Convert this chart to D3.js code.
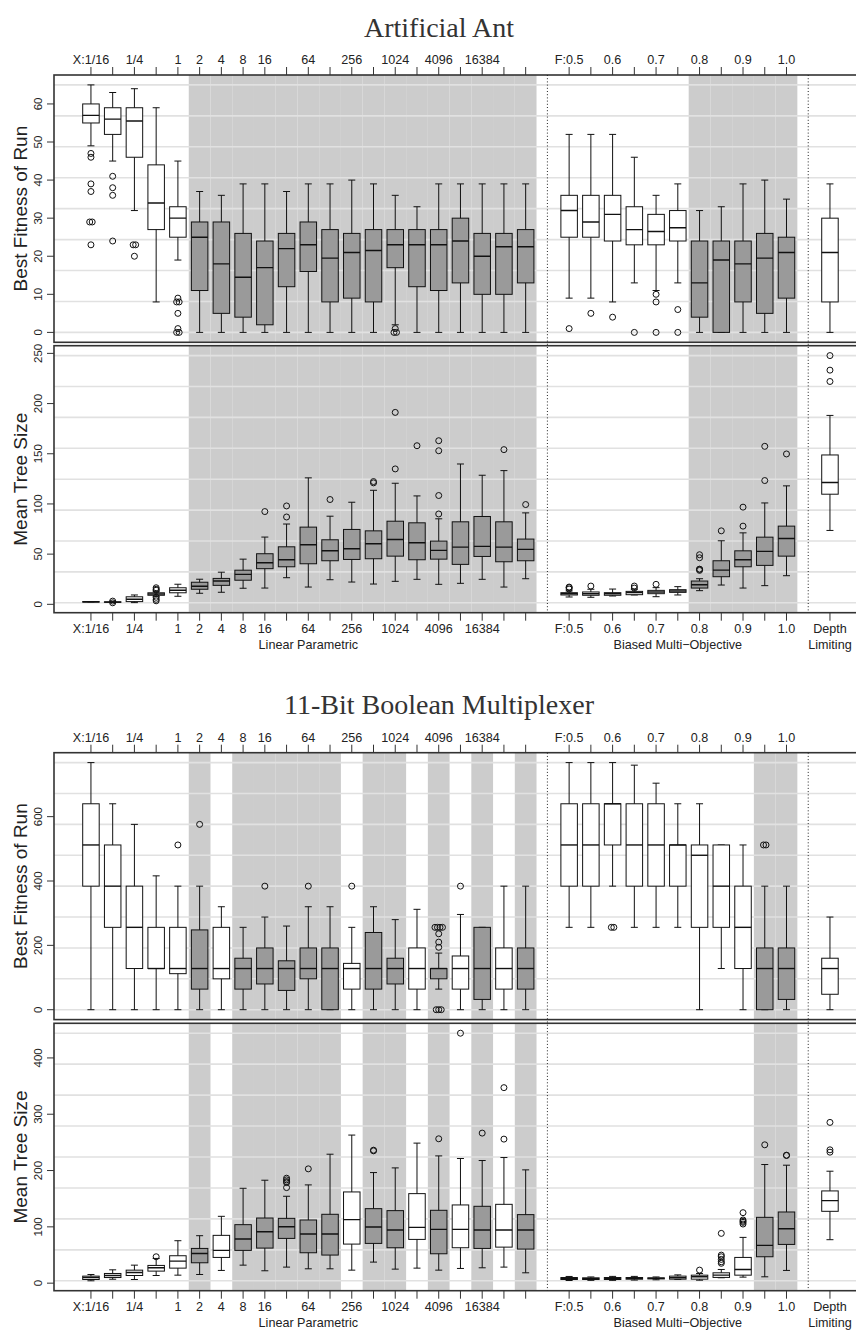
<!DOCTYPE html>
<html>
<head>
<meta charset="utf-8">
<script src="https://cdn.jsdelivr.net/npm/d3@7"></script>
<style>
  html, body { margin: 0; padding: 0; background: #fff; }
  svg { display: block; }
  text { font-family: "Liberation Sans", Arial, Helvetica, sans-serif; fill: #222; }
  .title { font-family: "Liberation Serif", "Times New Roman", serif; fill: #333; }
</style>
</head>
<body>
<svg id="chart" width="856" height="1330"></svg>
<script>
// ---- categories and tick labels ----
const linearLabels = ["X:1/16", "", "1/4", "", "1", "2", "4", "8", "16", "", "64", "", "256", "", "1024", "", "4096", "", "16384", "", ""];
const biasedLabels = ["F:0.5", "", "0.6", "", "0.7", "", "0.8", "", "0.9", "", "1.0"];
const depthLabel = ["Depth", "Limiting"];
const groupNames = ["Linear Parametric", "Biased Multi\u2212Objective"];

// ---- Artificial Ant: box summaries [lower whisker, Q1, median, Q3, upper whisker] ----
// order: 21 linear parametric, 11 biased multi-objective, 1 depth limiting
const antFitness = [
  [49, 55, 57, 60, 65], [45, 52, 56, 59, 63], [32, 46, 55.5, 59, 64], [8, 27, 34, 44, 59],
  [19, 25, 30, 33, 45], [0, 11, 25, 29, 37], [0, 5, 18, 29, 36], [0, 4, 14.5, 26, 39],
  [0, 2, 17, 24, 39], [0, 12, 22, 26, 37], [0, 16, 23, 29, 39], [0, 8, 19.5, 27, 39],
  [0, 9, 21, 26, 40], [0, 8, 21.5, 27, 39], [2, 17, 23, 27, 36], [0, 12, 23, 27, 33],
  [0, 11, 23, 27, 39], [0, 13, 24, 30, 39], [0, 10, 20, 26, 39], [0, 10, 22.5, 26, 39],
  [0, 13, 22.5, 27, 39],
  [9, 25, 32, 36, 52], [9, 25, 29, 36, 52], [8, 24, 31, 36, 52], [13, 23, 27, 33, 46],
  [11, 23, 26.5, 31, 36], [13, 24, 27.5, 32, 39], [0, 4, 13, 24, 32], [0, 0, 19, 24, 33],
  [0, 8, 18, 24, 39], [0, 5, 19.5, 26, 40], [0, 9, 21, 25, 35],
  [0, 8, 21, 30, 39]
];
const antFitnessOut = [
  [47, 46, 39, 37, 29, 29, 23], [41, 38, 36, 24], [23, 23, 20], [], [9, 8, 8, 5, 1, 0, 0],
  [], [], [], [], [], [], [], [], [], [1, 0, 0], [], [], [], [], [], [],
  [1], [5], [4], [0], [10, 8, 0], [6, 0], [], [], [], [], [],
  []
];
const antSize = [
  [2.4, 2.5, 2.6, 2.7, 2.8], [1.8, 2.0, 2.2, 2.5, 3.0], [1.7, 2.7, 5, 7.5, 9.3], [8, 9, 10.3, 11.5, 13],
  [8, 11.5, 14, 16.5, 20], [11, 15, 18, 22, 25], [12, 18.9, 23.2, 25.8, 32], [16, 24, 29.8, 34, 45],
  [16.2, 35.5, 41.4, 50.4, 67], [26.5, 37.4, 44.4, 57.3, 80], [17.2, 40.4, 59.3, 76.9, 126], [24.5, 43.4, 53.3, 64.3, 87.8],
  [22.2, 44.7, 55.3, 74.6, 101.7], [20.2, 45.4, 60.3, 73.2, 113.6], [22.9, 48, 64.6, 82.8, 120.6], [24.9, 44.4, 61.3, 81.2, 108],
  [19.9, 45, 53.7, 63, 85.2], [20.9, 39.8, 57, 82.2, 139.8], [24.9, 47.7, 57.7, 87.5, 128.6], [17.2, 42.4, 57, 82.2, 133.2],
  [25.5, 43.4, 54.7, 65, 91.1],
  [7.3, 9.3, 10.6, 11.6, 13.3], [7, 9, 10.6, 12.3, 15], [8.3, 9, 10.6, 11.6, 15.2], [9.3, 9.6, 11.6, 12.9, 15],
  [7.6, 10.6, 12.3, 13.9, 16.6], [9.3, 11.9, 13.3, 14.6, 17.6], [13.6, 16.2, 19.5, 23.2, 25.5], [19.2, 27.5, 34.1, 43.4, 63.3],
  [16.2, 37.4, 44.4, 53.3, 71.2], [18.6, 38.8, 52.7, 66.9, 101], [28.5, 48, 65.6, 77.9, 118],
  [73.6, 109.7, 121.3, 148.8, 188.2]
];
const antSizeOut = [
  [], [1.5, 3.2], [], [16.5, 15, 14, 7, 5, 3.5], [], [], [], [],
  [92.4], [98, 87], [], [104.4], [], [121, 122.3], [191.2, 134.9], [158],
  [163, 153, 108.4, 90], [], [], [154.1], [99.4],
  [17.2, 16.6, 15.2], [18.2], [], [18.2, 16.2], [19.9], [], [49.4, 46.4, 35, 34.8, 33.8], [73.2],
  [96.8, 77.9], [157.4, 123.3], [149.8],
  [247.8, 233.3, 222]
];
// shaded (grey) columns, 1-based slot numbers
const antShaded = [6, 7, 8, 9, 10, 11, 12, 13, 14, 15, 16, 17, 18, 19, 20, 21, 29, 30, 31, 32, 33];

// ---- 11-Bit Boolean Multiplexer ----
const muxFitness = [
  [0, 384, 512, 640, 768], [0, 256, 384, 512, 640], [0, 128, 256, 384, 576], [0, 128, 128, 256, 416],
  [0, 112, 128, 256, 384], [0, 64, 128, 248, 384], [0, 96, 128, 256, 320], [0, 64, 128, 160, 256],
  [0, 80, 128, 192, 288], [0, 60, 128, 152, 260], [0, 96, 128, 192, 320], [0, 0, 128, 192, 320],
  [0, 64, 128, 144, 256], [0, 64, 128, 240, 320], [0, 80, 128, 160, 280], [0, 64, 128, 192, 312],
  [64, 96, 128, 128, 176], [0, 64, 128, 167, 296], [0, 32, 128, 256, 256], [0, 64, 128, 192, 384],
  [0, 64, 128, 192, 384],
  [256, 384, 512, 640, 768], [256, 384, 512, 640, 768], [384, 512, 640, 640, 768], [256, 384, 512, 640, 760],
  [256, 384, 512, 640, 704], [256, 384, 512, 512, 640], [0, 256, 480, 512, 640], [128, 256, 384, 512, 512],
  [0, 128, 256, 384, 512], [0, 0, 128, 192, 384], [0, 32, 128, 192, 384],
  [0, 48, 128, 160, 288]
];
const muxFitnessOut = [
  [], [], [], [], [512], [576], [], [], [384], [], [384], [], [384], [], [], [],
  [256, 256, 256, 256, 236, 210, 194, 0, 0, 0], [384], [], [], [],
  [], [], [256, 256], [], [], [], [], [], [], [512, 512], [],
  []
];
const muxSize = [
  [4.2, 6.5, 10, 12.5, 15.4], [7, 10, 13.6, 17.2, 23.7], [6.5, 13.6, 19, 23.1, 32], [13.6, 21.4, 27.3, 31.5, 43.9],
  [14.2, 26.7, 39.2, 48.7, 75.4], [15.4, 36.2, 52.8, 61.7, 84.3], [22.6, 45.7, 58.2, 84.9, 118.7], [32, 58.2, 78.3, 103.9, 168.5],
  [22, 62.3, 91.4, 115.7, 182.8], [28.5, 79.5, 100.3, 115.1, 154.3], [25.5, 54, 87.2, 112.2, 174.5], [25.5, 49.9, 87.2, 122.3, 229],
  [23.1, 69.4, 112.8, 162, 263], [37.4, 70.6, 99.7, 132.3, 196.4], [24.9, 62.9, 94.4, 128.8, 204.7], [26.7, 77.7, 99.1, 159, 248.7],
  [23.1, 52.2, 95.5, 129.4, 226], [26.1, 62.9, 95.5, 138.9, 221.4], [27.3, 61.7, 94.4, 136.5, 217.8], [28.5, 64, 94.4, 140, 223.1],
  [18.4, 60.5, 94.4, 121.7, 201.2],
  [4.7, 6.5, 8.3, 10, 11.9], [5, 6.5, 8, 9.5, 11], [5, 6.5, 8.3, 10, 12], [5.5, 7, 8.5, 10, 12],
  [6, 7.5, 8.5, 9.5, 11], [6.5, 7.1, 9.6, 12.5, 14.7], [5.3, 7.1, 11.3, 14.2, 17.2], [9.6, 10.2, 14.2, 18.4, 24.3],
  [10.7, 14.2, 24.3, 45.7, 81.3], [11.3, 46.9, 67.1, 116.9, 210.7], [22.6, 68.8, 96.7, 126.4, 209.5],
  [77.2, 127.6, 146.6, 163.8, 198.8]
];
const muxSizeOut = [
  [], [], [], [46.9], [], [], [], [], [], [186.4, 183.4, 180.4, 178.6, 169.7], [203], [],
  [], [235, 236.2], [], [], [256.4], [443.9], [266.5], [347.2, 255.8], [],
  [], [], [], [], [], [], [23.2], [88.4, 49.8, 46.9, 42.2, 38, 35.3],
  [125.2, 112.2, 110, 108, 105], [245.7], [227.3, 226.7],
  [285.5, 236.8, 232.6]
];
const muxShaded = [6, 8, 9, 10, 11, 12, 14, 15, 17, 19, 21, 32, 33];

// ---- layout ----
const svg = d3.select("#chart");
const plotLeft = 54, plotRight = 858;
// slot numbers: 1..21 linear, 22 separator, 23..33 biased, 34 separator, 35 depth
const slots = d3.range(1, 22).concat(d3.range(23, 34)).concat([35]);
const x = d3.scaleLinear().domain([-0.7, 36.29]).range([plotLeft, plotRight]);
const step = x(2) - x(1);
const boxW = 16.5, capW = 7;
const FRAME = "#333";

function yScaleFor(data, outs, y0, y1) {
  const vals = data.flat().concat(outs.flat());
  const lo = d3.min(vals), hi = d3.max(vals);
  const pad = (hi - lo) * 0.04;
  return { scale: d3.scaleLinear().domain([lo - pad, hi + pad]).range([y1, y0]), lo, hi };
}

function drawPanel(g, p, shaded) {
  const { scale: y, lo, hi } = yScaleFor(p.data, p.outs, p.y0, p.y1);
  const clipId = "clip" + Math.round(p.y0);
  g.append("clipPath").attr("id", clipId).append("rect")
    .attr("x", plotLeft).attr("y", p.y0).attr("width", plotRight - plotLeft).attr("height", p.y1 - p.y0);
  const inner = g.append("g").attr("clip-path", `url(#${clipId})`);

  // shaded columns
  inner.selectAll("rect.shade").data(shaded).join("rect").attr("class", "shade")
    .attr("x", d => x(d) - step / 2).attr("width", step)
    .attr("y", p.y0).attr("height", p.y1 - p.y0).attr("fill", "#cccccc");

  // reference grid: 8 equal intervals across the data range
  const grid = d3.range(9).map(k => lo + (hi - lo) * k / 8);
  inner.selectAll("line.grid").data(grid).join("line").attr("class", "grid")
    .attr("x1", plotLeft).attr("x2", plotRight)
    .attr("y1", d => y(d)).attr("y2", d => y(d))
    .attr("stroke", "#e1e1e1").attr("stroke-width", 1.6);

  // boxes
  const boxes = p.data.map((d, i) => ({ d, slot: slots[i], outs: p.outs[i], grey: shaded.includes(slots[i]) }));
  const bg = inner.selectAll("g.box").data(boxes).join("g").attr("class", "box");
  bg.append("line").attr("x1", b => x(b.slot)).attr("x2", b => x(b.slot))
    .attr("y1", b => y(b.d[0])).attr("y2", b => y(b.d[4]))
    .attr("stroke", "#111").attr("stroke-width", 1);
  bg.append("line").attr("x1", b => x(b.slot) - capW / 2).attr("x2", b => x(b.slot) + capW / 2)
    .attr("y1", b => y(b.d[0])).attr("y2", b => y(b.d[0])).attr("stroke", "#111").attr("stroke-width", 1);
  bg.append("line").attr("x1", b => x(b.slot) - capW / 2).attr("x2", b => x(b.slot) + capW / 2)
    .attr("y1", b => y(b.d[4])).attr("y2", b => y(b.d[4])).attr("stroke", "#111").attr("stroke-width", 1);
  bg.append("rect").attr("x", b => x(b.slot) - boxW / 2).attr("width", boxW)
    .attr("y", b => y(b.d[3])).attr("height", b => Math.max(0.5, y(b.d[1]) - y(b.d[3])))
    .attr("fill", b => b.grey ? "#9a9a9a" : "#ffffff").attr("stroke", "#111").attr("stroke-width", 1);
  bg.append("line").attr("x1", b => x(b.slot) - boxW / 2).attr("x2", b => x(b.slot) + boxW / 2)
    .attr("y1", b => y(b.d[2])).attr("y2", b => y(b.d[2])).attr("stroke", "#111").attr("stroke-width", 1.4);
  // outliers: repeated values are spread a little sideways
  bg.each(function (b) {
    const seen = {};
    const counts = d3.rollup(b.outs, v => v.length, v => v);
    const pts = b.outs.map(v => {
      seen[v] = (seen[v] || 0) + 1;
      const n = counts.get(v);
      return { v, dx: (seen[v] - 1 - (n - 1) / 2) * 2.5 };
    });
    d3.select(this).selectAll("circle").data(pts).join("circle")
      .attr("cx", o => x(b.slot) + o.dx).attr("cy", o => y(o.v)).attr("r", 3)
      .attr("fill", "none").attr("stroke", "#111").attr("stroke-width", 1);
  });

  // frame
  g.append("rect").attr("x", plotLeft).attr("y", p.y0).attr("width", plotRight - plotLeft).attr("height", p.y1 - p.y0)
    .attr("fill", "none").attr("stroke", FRAME).attr("stroke-width", 1.6);

  // y axis ticks and labels
  const ya = g.append("g");
  ya.selectAll("line").data(p.ticks).join("line")
    .attr("x1", plotLeft - 7).attr("x2", plotLeft).attr("y1", d => y(d)).attr("y2", d => y(d))
    .attr("stroke", FRAME).attr("stroke-width", 1);
  ya.selectAll("text").data(p.ticks).join("text")
    .attr("transform", d => `translate(${plotLeft - 12},${y(d)}) rotate(-90)`)
    .attr("text-anchor", "middle").attr("font-size", 11.5).text(d => d);
  g.append("text")
    .attr("transform", `translate(27,${(p.y0 + p.y1) / 2}) rotate(-90)`)
    .attr("text-anchor", "middle").attr("font-size", 19).text(p.label);
}

function drawChart(cfg) {
  const g = svg.append("g");
  g.append("text").attr("class", "title").attr("x", 439).attr("y", cfg.titleY)
    .attr("text-anchor", "middle").attr("font-size", 28).text(cfg.title);

  drawPanel(g, cfg.top, cfg.shaded);
  drawPanel(g, cfg.bottom, cfg.shaded);

  // separators between the parameter families
  [22, 34].forEach(s => {
    g.append("line").attr("x1", x(s)).attr("x2", x(s))
      .attr("y1", cfg.top.y0).attr("y2", cfg.bottom.y1)
      .attr("stroke", "#222").attr("stroke-width", 1).attr("stroke-dasharray", "1,2.2");
  });

  const tickSlots = d3.range(1, 22).concat(d3.range(23, 34));
  const tickText = linearLabels.concat(biasedLabels);

  // top axis
  const topY = cfg.top.y0;
  g.append("g").selectAll("line").data(tickSlots).join("line")
    .attr("x1", d => x(d)).attr("x2", d => x(d)).attr("y1", topY - 8).attr("y2", topY)
    .attr("stroke", FRAME).attr("stroke-width", 1);
  g.append("g").selectAll("text").data(tickSlots).join("text")
    .attr("x", d => x(d)).attr("y", topY - 11).attr("text-anchor", "middle").attr("font-size", 12.6)
    .text((d, i) => tickText[i]);

  // bottom axis
  const botY = cfg.bottom.y1;
  const botSlots = tickSlots.concat([35]);
  g.append("g").selectAll("line").data(botSlots).join("line")
    .attr("x1", d => x(d)).attr("x2", d => x(d)).attr("y1", botY).attr("y2", botY + 8)
    .attr("stroke", FRAME).attr("stroke-width", 1);
  g.append("g").selectAll("text").data(tickSlots).join("text")
    .attr("x", d => x(d)).attr("y", botY + 20.5).attr("text-anchor", "middle").attr("font-size", 12.6)
    .text((d, i) => tickText[i]);
  g.append("text").attr("x", x(35)).attr("y", botY + 20.5).attr("text-anchor", "middle").attr("font-size", 12.6).text(depthLabel[0]);
  g.append("text").attr("x", x(35)).attr("y", botY + 36.5).attr("text-anchor", "middle").attr("font-size", 12.6).text(depthLabel[1]);
  g.append("text").attr("x", x(11)).attr("y", botY + 36.5).attr("text-anchor", "middle").attr("font-size", 12.6).text(groupNames[0]);
  g.append("text").attr("x", x(28)).attr("y", botY + 36.5).attr("text-anchor", "middle").attr("font-size", 12.6).text(groupNames[1]);
}

drawChart({
  title: "Artificial Ant", titleY: 37, shaded: antShaded,
  top: { y0: 75, y1: 342.3, data: antFitness, outs: antFitnessOut, ticks: [0, 10, 20, 30, 40, 50, 60], label: "Best Fitness of Run" },
  bottom: { y0: 345.7, y1: 612.7, data: antSize, outs: antSizeOut, ticks: [0, 50, 100, 150, 200, 250], label: "Mean Tree Size" }
});
drawChart({
  title: "11-Bit Boolean Multiplexer", titleY: 714, shaded: muxShaded,
  top: { y0: 752.7, y1: 1019.6, data: muxFitness, outs: muxFitnessOut, ticks: [0, 200, 400, 600], label: "Best Fitness of Run" },
  bottom: { y0: 1023.3, y1: 1290.7, data: muxSize, outs: muxSizeOut, ticks: [0, 100, 200, 300, 400], label: "Mean Tree Size" }
});
</script>
</body>
</html>
